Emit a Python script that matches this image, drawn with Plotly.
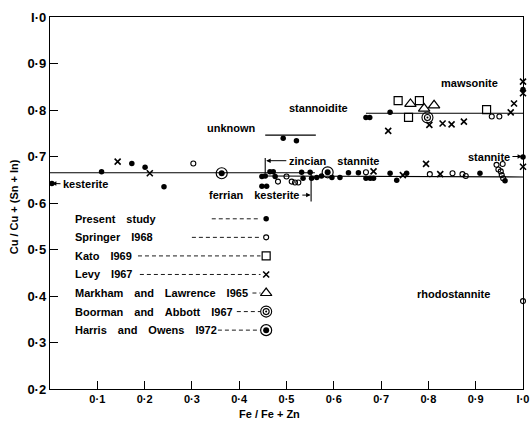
import plotly.graph_objects as go

# ---------------- data ----------------
present_x = [0.004, 0.109, 0.173, 0.201, 0.241,
             0.448, 0.448, 0.458, 0.455, 0.465, 0.472, 0.476, 0.532, 0.535, 0.550, 0.553,
             0.564, 0.574, 0.596, 0.613, 0.631, 0.652, 0.668, 0.677, 0.684, 0.719, 0.733,
             0.754, 0.909, 0.962, 1.0,
             0.493, 0.521,
             0.668, 0.676, 0.719, 1.0]
present_y = [0.642, 0.667, 0.685, 0.677, 0.635,
             0.657, 0.636, 0.636, 0.658, 0.667, 0.667, 0.657, 0.666, 0.653, 0.666, 0.653,
             0.655, 0.658, 0.655, 0.655, 0.665, 0.665, 0.653, 0.653, 0.653, 0.664, 0.649,
             0.664, 0.664, 0.648, 0.699,
             0.739, 0.734,
             0.784, 0.784, 0.795, 0.844]

springer_x = [0.303, 0.482, 0.500, 0.511, 0.518, 0.525, 0.668, 0.803, 0.851, 0.872, 0.879,
              0.944, 0.957, 0.948, 0.953, 0.955, 0.958, 0.934, 0.950, 1.0]
springer_y = [0.685, 0.646, 0.657, 0.646, 0.644, 0.644, 0.666, 0.662, 0.664, 0.662, 0.658,
              0.682, 0.684, 0.672, 0.668, 0.660, 0.653, 0.786, 0.786, 0.389]

kato_x = [0.736, 0.758, 0.781, 0.923]
kato_y = [0.820, 0.784, 0.820, 0.801]

levy_x = [0.143, 0.211, 0.684, 0.746, 0.795, 0.825, 0.715, 0.802, 0.830, 0.849, 0.875,
          0.974, 0.981, 1.0, 1.0, 1.0]
levy_y = [0.689, 0.664, 0.668, 0.660, 0.684, 0.662, 0.755, 0.768, 0.771, 0.769, 0.775,
          0.795, 0.814, 0.861, 0.836, 0.678]

markham_x = [0.762, 0.791, 0.812]
markham_y = [0.813, 0.803, 0.810]

boorman_x = [0.798]
boorman_y = [0.784]

harris_x = [0.363, 0.587]
harris_y = [0.664, 0.666]

# reference lines (mineral compositions)
kesterite_line_x = [0.0, 0.56]
kesterite_line_y = [0.665, 0.665]
stannite_line_x = [0.455, 1.0]
stannite_line_y = [0.658, 0.656]
unknown_line_x = [0.455, 0.562]
unknown_line_y = [0.746, 0.746]
mawsonite_line_x = [0.668, 1.0]
mawsonite_line_y = [0.793, 0.793]
zincian_bar_x = [0.455, 0.455]
zincian_bar_y = [0.697, 0.664]
ferrian_bar_x = [0.552, 0.552]
ferrian_bar_y = [0.664, 0.603]

x_ticks = [0.1, 0.2, 0.3, 0.4, 0.5, 0.6, 0.7, 0.8, 0.9, 1.0]
x_tick_labels = ["0·1", "0·2", "0·3", "0·4", "0·5", "0·6", "0·7", "0·8", "0·9", "I·0"]
y_ticks = [0.2, 0.3, 0.4, 0.5, 0.6, 0.7, 0.8, 0.9, 1.0]
y_tick_labels = ["0·2", "0·3", "0·4", "0·5", "0·6", "0·7", "0·8", "0·9", "I·0"]

legend_labels = ["Present\u2002\u2002study", "Springer\u2002\u2002I968", "Kato\u2002\u2002I969",
                 "Levy\u2002\u2002I967", "Markham\u2002\u2002and\u2002\u2002Lawrence\u2002\u2002I965",
                 "Boorman\u2002\u2002and\u2002\u2002Abbott\u2002\u2002I967",
                 "Harris\u2002\u2002and\u2002\u2002Owens\u2002\u2002I972"]

# ---------------- figure ----------------
FONT = "Liberation Sans"
fig = go.Figure()

def line(xs, ys, dash="solid", width=1.1):
    fig.add_trace(go.Scatter(x=xs, y=ys, mode="lines", line=dict(color="black", width=width, dash=dash),
                             hoverinfo="skip", showlegend=False, cliponaxis=False))

for xs, ys in [(kesterite_line_x, kesterite_line_y), (stannite_line_x, stannite_line_y),
               (unknown_line_x, unknown_line_y), (mawsonite_line_x, mawsonite_line_y),
               (zincian_bar_x, zincian_bar_y), (ferrian_bar_x, ferrian_bar_y)]:
    line(xs, ys)

# legend layout
leg_text_x = 0.049
leg_marker_x = 0.457
leg_y0 = 0.566
leg_dy = 0.0399
leader_start = [0.342, 0.300, 0.186, 0.190, 0.428, 0.395, 0.355]
leg_y = [leg_y0 - i * leg_dy for i in range(len(legend_labels))]
for i, lab in enumerate(legend_labels):
    fig.add_annotation(x=leg_text_x, y=leg_y[i], text=lab, showarrow=False, xanchor="left",
                       yanchor="middle", font=dict(family=FONT, size=11, color="black", weight="bold"))
    line([leader_start[i], leg_marker_x - 0.012], [leg_y[i], leg_y[i]], dash="4px,3px", width=0.9)

def markers(xs, ys, symbol, size, lw=1.2, color="black"):
    fig.add_trace(go.Scatter(x=xs, y=ys, mode="markers",
                             marker=dict(symbol=symbol, size=size, color=color,
                                         line=dict(color="black", width=lw)),
                             hoverinfo="skip", showlegend=False, cliponaxis=False))

def series(xs, ys, idx, kind):
    xs = xs + [leg_marker_x]
    ys = ys + [leg_y[idx]]
    if kind == "present":
        markers(xs, ys, "circle", 5.5, lw=0)
    elif kind == "springer":
        markers(xs, ys, "circle-open", 5, lw=1.1)
    elif kind == "kato":
        markers(xs, ys, "square-open", 8, lw=1.2)
    elif kind == "levy":
        markers(xs, ys, "x-thin-open", 6, lw=1.6)
    elif kind == "markham":
        markers(xs, ys, "triangle-up-open", 10, lw=1.2)
    elif kind == "boorman":
        markers(xs, ys, "circle-open", 11, lw=1.1)
        markers(xs, ys, "circle-open", 6, lw=1.1)
        markers(xs, ys, "circle", 2, lw=0)
    elif kind == "harris":
        markers(xs, ys, "circle-open", 11, lw=1.2)
        markers(xs, ys, "circle", 6, lw=0)

series(present_x, present_y, 0, "present")
series(springer_x, springer_y, 1, "springer")
series(kato_x, kato_y, 2, "kato")
series(levy_x, levy_y, 3, "levy")
series(markham_x, markham_y, 4, "markham")
series(boorman_x, boorman_y, 5, "boorman")
series(harris_x, harris_y, 6, "harris")

lab_font = dict(family=FONT, size=11, color="black", weight="bold")
# plain labels
for txt, x, y in [("unknown", 0.383, 0.761), ("stannoidite", 0.567, 0.804),
                  ("mawsonite", 0.886, 0.858), ("rhodostannite", 0.854, 0.404)]:
    fig.add_annotation(x=x, y=y, text=txt, showarrow=False, font=lab_font)

# arrowed labels
for txt, tx, ty, px, py in [("kesterite", 0.075, 0.640, 0.004, 0.642),
                            ("zincian\u2002\u2002stannite", 0.600, 0.691, 0.457, 0.691),
                            ("ferrian\u2002\u2002kesterite", 0.432, 0.617, 0.551, 0.617),
                            ("stannite", 0.928, 0.700, 0.998, 0.700)]:
    fig.add_annotation(x=px, y=py, ax=tx, ay=ty, axref="x", ayref="y", text=txt, showarrow=True,
                       arrowhead=2, arrowsize=0.9, arrowwidth=1, arrowcolor="black",
                       font=lab_font, standoff=0, startstandoff=1)

# axis titles
fig.add_annotation(xref="paper", yref="paper", x=0.465, y=-0.066, text="Fe / Fe + Zn", showarrow=False,
                   font=dict(family=FONT, size=11, color="black", weight="bold"), yanchor="middle")
fig.add_annotation(xref="paper", yref="paper", x=-0.077, y=0.49, text="Cu / Cu + (Sn + In)",
                   showarrow=False, textangle=-90,
                   font=dict(family=FONT, size=11, color="black", weight="bold"), xanchor="center")

axis_common = dict(showgrid=False, zeroline=False, showline=True, linecolor="black", linewidth=1.4,
                   mirror=True, ticks="inside", tickcolor="black", tickwidth=1, ticklen=8,
                   automargin=False)
fig.update_xaxes(range=[0, 1.0], tickvals=x_ticks, ticktext=x_tick_labels,
                 tickfont=dict(family=FONT, size=11, color="black", weight="bold"), **axis_common)
fig.update_yaxes(range=[0.2, 1.0], tickvals=y_ticks, ticktext=y_tick_labels,
                 tickfont=dict(family=FONT, size=13, color="black", weight="bold"), **axis_common)

fig.update_layout(width=532, height=426, margin=dict(l=50, r=9, t=17, b=37, autoexpand=False),
                  plot_bgcolor="white", paper_bgcolor="white", showlegend=False)

fig.write_html("out.html")
